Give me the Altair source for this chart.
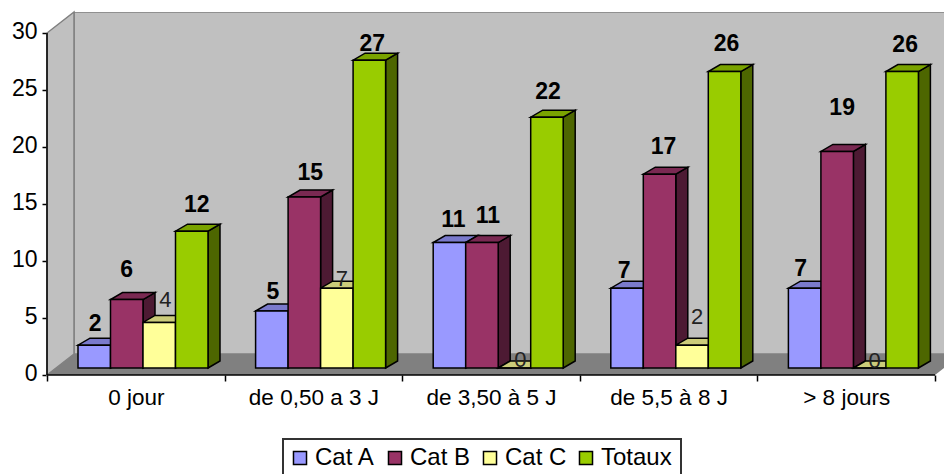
import altair as alt
import pandas as pd

categories = ["0 jour", "de 0,50 a 3 J", "de 3,50 à 5 J", "de 5,5 à 8 J", "> 8 jours"]
series = ["Cat A", "Cat B", "Cat C", "Totaux"]
cat_a = [2, 5, 11, 7, 7]
cat_b = [6, 15, 11, 17, 19]
cat_c = [4, 7, 0, 2, 0]
totaux = [12, 27, 22, 26, 26]
values = [cat_a, cat_b, cat_c, totaux]

front_colors = ["#9999FF", "#993366", "#FFFF99", "#99CC00"]
top_colors = ["#7A7ACC", "#7A2952", "#CCCC7A", "#7AA300"]
side_colors = ["#4D4D80", "#4D1A33", "#80804D", "#4D6600"]

# label placement relative to bar centre / bar top (pixels: right, up)
label_dx = [[1, 0, 6, 5], [1, 6, 5, 3], [4, 6, 6, 1], [-3, 4, 5, 2], [-4, 5, 5, 3]]
label_up = [[21, 30, 22, 26], [19, 24, 9, 16], [23, 27, 8, 25], [17, 27, 28, 28], [19, 43, 7, 27]]

# geometry
PX_CAT, PX_VAL = 177.6, 11.4
W, H = 897, 363
DEPTH_X, DEPTH_Y = 27 / PX_CAT, 21 / PX_VAL
BAR_START, BAR_W = 31 / PX_CAT, 32.5 / PX_CAT
BAR_DX, BAR_DY = 12 / PX_CAT, 7 / PX_VAL
BASE = 7 / PX_VAL
N = len(categories)
x_scale = alt.Scale(domain=[0, W / PX_CAT], nice=False, zero=False)
y_scale = alt.Scale(domain=[0, H / PX_VAL], nice=False, zero=False)

front, side, top, labels = [], [], [], []
for g in range(N):
    for s in range(len(series)):
        v = values[s][g]
        x0 = g + BAR_START + s * BAR_W
        x1 = x0 + BAR_W
        yt = BASE + v
        key = f"{g}-{s}"
        front.append(dict(series=series[s], x0=x0, x1=x1, y0=BASE, y1=yt))
        c = side_colors[s]
        side += [
            dict(key=key, x=x1, y=BASE, y2=yt, c=c),
            dict(key=key, x=x1 + BAR_DX, y=BASE + BAR_DY, y2=yt + BAR_DY, c=c),
        ]
        c = top_colors[s]
        top += [
            dict(key=key, x=x0, y=yt, y2=yt, c=c),
            dict(key=key, x=x0 + BAR_DX, y=yt, y2=yt + BAR_DY, c=c),
            dict(key=key, x=x1, y=yt, y2=yt + BAR_DY, c=c),
            dict(key=key, x=x1 + BAR_DX, y=yt + BAR_DY, y2=yt + BAR_DY, c=c),
        ]
        labels.append(dict(
            t=str(v),
            x=(x0 + x1) / 2 + label_dx[g][s] / PX_CAT,
            y=yt + label_up[g][s] / PX_VAL,
            cat_c=(s == 2),
        ))

X = alt.X("x:Q", scale=x_scale, axis=None)
Y = alt.Y("y:Q", scale=y_scale, axis=None)


def df(rows):
    return pd.DataFrame(rows)


wall = alt.Chart(df([dict(x0=DEPTH_X, x1=N + DEPTH_X, y0=DEPTH_Y, y1=H / PX_VAL)])).mark_rect(
    fill="#C0C0C0", stroke="#808080", strokeWidth=1.5, clip=True
).encode(
    x=alt.X("x0:Q", scale=x_scale, axis=None), x2="x1:Q",
    y=alt.Y("y0:Q", scale=y_scale, axis=None), y2="y1:Q",
)
left_wall = alt.Chart(df([
    dict(x=0, y=0, y2=30),
    dict(x=DEPTH_X, y=DEPTH_Y, y2=30 + DEPTH_Y),
])).mark_area(orient="vertical", fill="#C0C0C0", stroke="#808080", strokeWidth=1.5, opacity=1).encode(
    x=X, y=Y, y2="y2:Q"
)
floor = alt.Chart(df([
    dict(x=0, y=0, y2=0),
    dict(x=DEPTH_X, y=0, y2=DEPTH_Y),
    dict(x=N, y=0, y2=DEPTH_Y),
    dict(x=N + DEPTH_X, y=DEPTH_Y, y2=DEPTH_Y),
])).mark_area(orient="vertical", fill="#808080", opacity=1, clip=True).encode(
    x=X, y=Y, y2="y2:Q"
)


def faces(rows):
    return alt.Chart(df(rows)).mark_area(orient="vertical", stroke="#000000", strokeWidth=1.5, opacity=1).encode(
        x=X, y=Y, y2="y2:Q", detail="key:N",
        fill=alt.Fill("c:N", scale=None),
    )


side_layer = faces(side)
top_layer = faces(top)
front_layer = alt.Chart(df(front)).mark_rect(stroke="#000000", strokeWidth=1.5).encode(
    x=alt.X("x0:Q", scale=x_scale, axis=None), x2="x1:Q",
    y=alt.Y("y0:Q", scale=y_scale, axis=None), y2="y1:Q",
    color=alt.Color(
        "series:N",
        scale=alt.Scale(domain=series, range=front_colors),
        sort=series,
        legend=alt.Legend(
            title=None, orient="none", direction="horizontal", columns=4,
            legendX=234, legendY=427, padding=7,
            symbolType="square", symbolSize=170, symbolStrokeColor="#000000", symbolStrokeWidth=1.5,
            labelFont="Liberation Sans", labelFontSize=24, labelColor="#000000",
            labelOffset=3, columnPadding=7, labelLimit=200,
        ),
    ),
)
legend_box = alt.Chart(df([dict(x=0)])).mark_rect(
    fill="#FFFFFF", stroke="#333333", strokeWidth=2, clip=False
).encode(x=alt.value(236), x2=alt.value(634), y=alt.value(427), y2=alt.value(475))

y_rule = alt.Chart(df([dict(x=0, y=0, y2=30)])).mark_rule(color="#000000", strokeWidth=1.5).encode(
    x=X, y=Y, y2="y2:Q"
)
x_rule = alt.Chart(df([dict(x=0, x2=N, y=0)])).mark_rule(color="#000000", strokeWidth=1.5).encode(
    x=X, x2="x2:Q", y=Y
)

txt = alt.Chart(df(labels))
lab_main = txt.transform_filter("!datum.cat_c").mark_text(
    font="Liberation Sans", fontSize=23, fontWeight="bold", color="#000000", baseline="middle"
).encode(x=X, y=Y, text="t:N")
lab_c = txt.transform_filter("datum.cat_c").mark_text(
    font="Liberation Sans", fontSize=22, color="#222222", baseline="middle"
).encode(x=X, y=Y, text="t:N")

cat_expr = "[" + ",".join('"' + c + '"' for c in categories) + "]"
tick_axis = alt.Chart(df([dict(x=0, y=0)])).mark_point(opacity=0).encode(
    x=alt.X("x:Q", scale=x_scale, axis=alt.Axis(
        orient="bottom", values=list(range(N + 1)), labels=False, title=None, domain=False,
        grid=False, tickSize=6, tickColor="#000000", tickWidth=1.5,
    )),
    y=alt.Y("y:Q", scale=y_scale, axis=alt.Axis(
        orient="left", values=[0, 5, 10, 15, 20, 25, 30], title=None, domain=False, grid=False,
        tickSize=5, tickColor="#000000", tickWidth=1.5, labelFont="Liberation Sans",
        labelFontSize=23, labelColor="#000000", labelPadding=5, labelOffset=-2,
    )),
)
label_axis = alt.Chart(df([dict(x=0.5 + i, y=0) for i in range(N)])).mark_point(opacity=0).encode(
    x=alt.X("x:Q", scale=x_scale, axis=alt.Axis(
        orient="bottom", values=[i + 0.5 for i in range(N)], title=None, domain=False, grid=False,
        ticks=False, labelExpr=f"{cat_expr}[floor(datum.value)]", labelFont="Liberation Sans",
        labelFontSize=22.5, labelColor="#000000", labelPadding=11, labelOverlap=False, labelFlush=False,
    )),
    y=Y,
)

chart = alt.layer(
    wall, left_wall, floor, side_layer, top_layer, front_layer, legend_box,
    y_rule, x_rule, tick_axis, label_axis, lab_main, lab_c,
).resolve_axis(x="independent", y="independent").properties(
    width=W, height=H,
    autosize=alt.AutoSizeParams(type="none", contains="content"),
    padding={"left": 39, "top": 4, "right": 0, "bottom": 99},
    background="#FFFFFF",
).configure_view(stroke=None)

chart.save("out.html", embed_options={"renderer": "svg", "actions": False})
